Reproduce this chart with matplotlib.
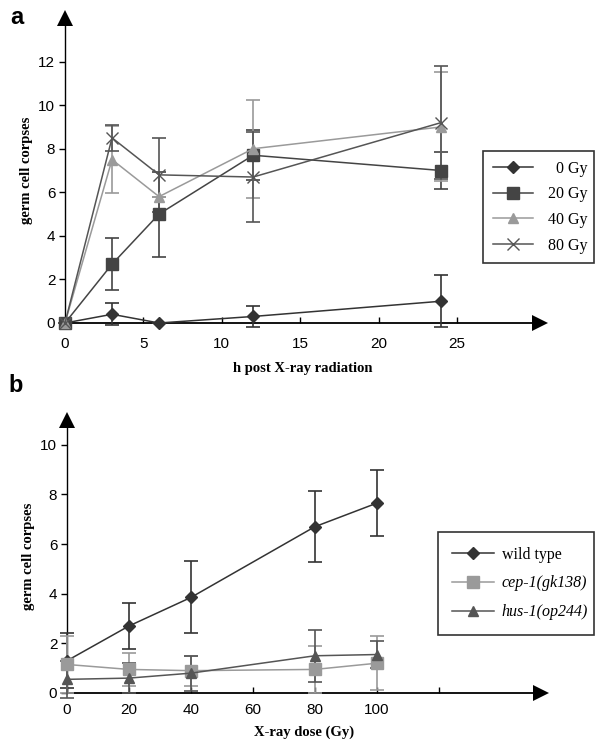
import matplotlib
matplotlib.use('Agg')
import matplotlib.pyplot as plt

# %% data, panel a
hours = [0, 3, 6, 12, 24]
gy0 = [0, 0.4, 0, 0.3, 1.0]
gy0_err = [0, 0.5, 0, 0.5, 1.2]
gy20 = [0, 2.7, 5.0, 7.7, 7.0]
gy20_err = [0, 1.2, 1.95, 1.15, 0.85]
gy40 = [0, 7.5, 5.8, 8.0, 9.0]
gy40_err = [0, 1.55, 0, 2.25, 2.5]
gy80 = [0, 8.5, 6.8, 6.7, 9.2]
gy80_err = [0, 0.6, 1.7, 2.05, 2.6]
labels_a = ['  0 Gy', '20 Gy', '40 Gy', '80 Gy']

# %% data, panel b
dose = [0, 20, 40, 80, 100]
wt = [1.3, 2.7, 3.85, 6.7, 7.65]
wt_err = [1.1, 0.92, 1.45, 1.42, 1.33]
cep1 = [1.15, 0.95, 0.9, 0.95, 1.2]
cep1_err = [1.15, 0.65, 0.6, 0.95, 1.08]
hus1 = [0.55, 0.6, 0.8, 1.5, 1.55]
hus1_err = [0.75, 0.6, 0.7, 1.05, 0.55]
labels_b = ['wild type', 'cep-1(gk138)', 'hus-1(op244)']

W, H = 600, 740
fig = plt.figure(figsize=(6, 7.4), dpi=100, facecolor='white')

tickfont = 'Liberation Sans'
serif = 'Liberation Serif'


def make_ax(left, right, bottom, top, xmax, ymax, xpad):
    ax = fig.add_axes([left / W, 1 - bottom / H, (right - left) / W, (bottom - top) / H])
    ax.set_xlim(0, xmax)
    ax.set_ylim(0, ymax)
    for s in ['top', 'right']:
        ax.spines[s].set_visible(False)
    ax.spines['left'].set_linewidth(1.0)
    ax.spines['bottom'].set_linewidth(1.3)
    ax.tick_params(axis='x', direction='in', length=4, width=1, pad=xpad)
    ax.tick_params(axis='y', direction='out', length=4, width=1, pad=3)
    ax.tick_params(labelsize=11)
    # arrow heads
    ax.plot(1, 0, marker='>', color='black', markersize=11, transform=ax.transAxes,
            clip_on=False, markeredgewidth=0)
    ax.plot(0, 1, marker='^', color='black', markersize=11, transform=ax.transAxes,
            clip_on=False, markeredgewidth=0)
    return ax


def series(ax, x, y, err, color, marker, ms):
    c = ax.errorbar(x, y, yerr=err, color=color, marker=marker, markersize=ms, lw=1.1,
                    ecolor=color, elinewidth=1.2, capsize=5, capthick=1.2,
                    clip_on=False, zorder=3)
    return c[0]


def fix_fonts(ax):
    for lab in ax.get_xticklabels() + ax.get_yticklabels():
        lab.set_fontfamily(tickfont)


# %% panel a
ax = make_ax(65, 540, 323, 18, 30.3, 14.0, 10)
ax.set_xticks([0, 5, 10, 15, 20, 25])
ax.set_yticks([0, 2, 4, 6, 8, 10, 12])
fix_fonts(ax)
h = [series(ax, hours, gy0, gy0_err, '#333333', 'D', 6),
     series(ax, hours, gy20, gy20_err, '#444444', 's', 8),
     series(ax, hours, gy40, gy40_err, '#9a9a9a', '^', 7),
     series(ax, hours, gy80, gy80_err, '#555555', 'x', 8)]
leg = ax.legend(h, labels_a, loc='upper left', mode='expand',
                bbox_to_anchor=(483 / W, 1 - 152 / H, 111 / W, 0.001), bbox_transform=fig.transFigure,
                prop={'family': serif, 'size': 11.5}, frameon=True, fancybox=False, edgecolor='black',
                handlelength=2.5, borderpad=0.6, labelspacing=0.6, handletextpad=1.0, borderaxespad=0)
leg.get_frame().set_linewidth(1.2)
ax.set_ylabel('germ cell corpses', family=serif, fontweight='bold', fontsize=10.5, labelpad=4)
ax.set_xlabel('h post X-ray radiation', family=serif, fontweight='bold', fontsize=10.5, labelpad=8)
fig.text(10 / W, 1 - 24 / H, 'a', fontsize=17, fontweight='bold', family='Liberation Sans')

# %% panel b
bx = make_ax(67, 541, 693, 420, 153.0, 11.0, 7)
bx.set_xticks([0, 20, 40, 60, 80, 100, 120])
bx.set_xticklabels(['0', '20', '40', '60', '80', '100', ''])
bx.set_yticks([0, 2, 4, 6, 8, 10])
fix_fonts(bx)
h2 = [series(bx, dose, wt, wt_err, '#333333', 'D', 6.5),
      series(bx, dose, cep1, cep1_err, '#9a9a9a', 's', 8),
      series(bx, dose, hus1, hus1_err, '#555555', '^', 7.5)]
leg2 = bx.legend(h2, labels_b, loc='upper left', mode='expand',
                 bbox_to_anchor=(438 / W, 1 - 533 / H, 156 / W, 0.001), bbox_transform=fig.transFigure,
                 prop={'family': serif, 'size': 11.5}, frameon=True, fancybox=False, edgecolor='black',
                 handlelength=2.6, borderpad=0.9, labelspacing=0.8, handletextpad=0.5, borderaxespad=0)
leg2.get_frame().set_linewidth(1.2)
for t in leg2.get_texts()[1:]:
    t.set_fontstyle('italic')
bx.set_ylabel('germ cell corpses', family=serif, fontweight='bold', fontsize=10.5, labelpad=4)
bx.set_xlabel('X-ray dose (Gy)', family=serif, fontweight='bold', fontsize=10.5, labelpad=6)
fig.text(8 / W, 1 - 392 / H, 'b', fontsize=17, fontweight='bold', family='Liberation Sans')

fig.savefig('out.png', dpi=100, facecolor='white')
